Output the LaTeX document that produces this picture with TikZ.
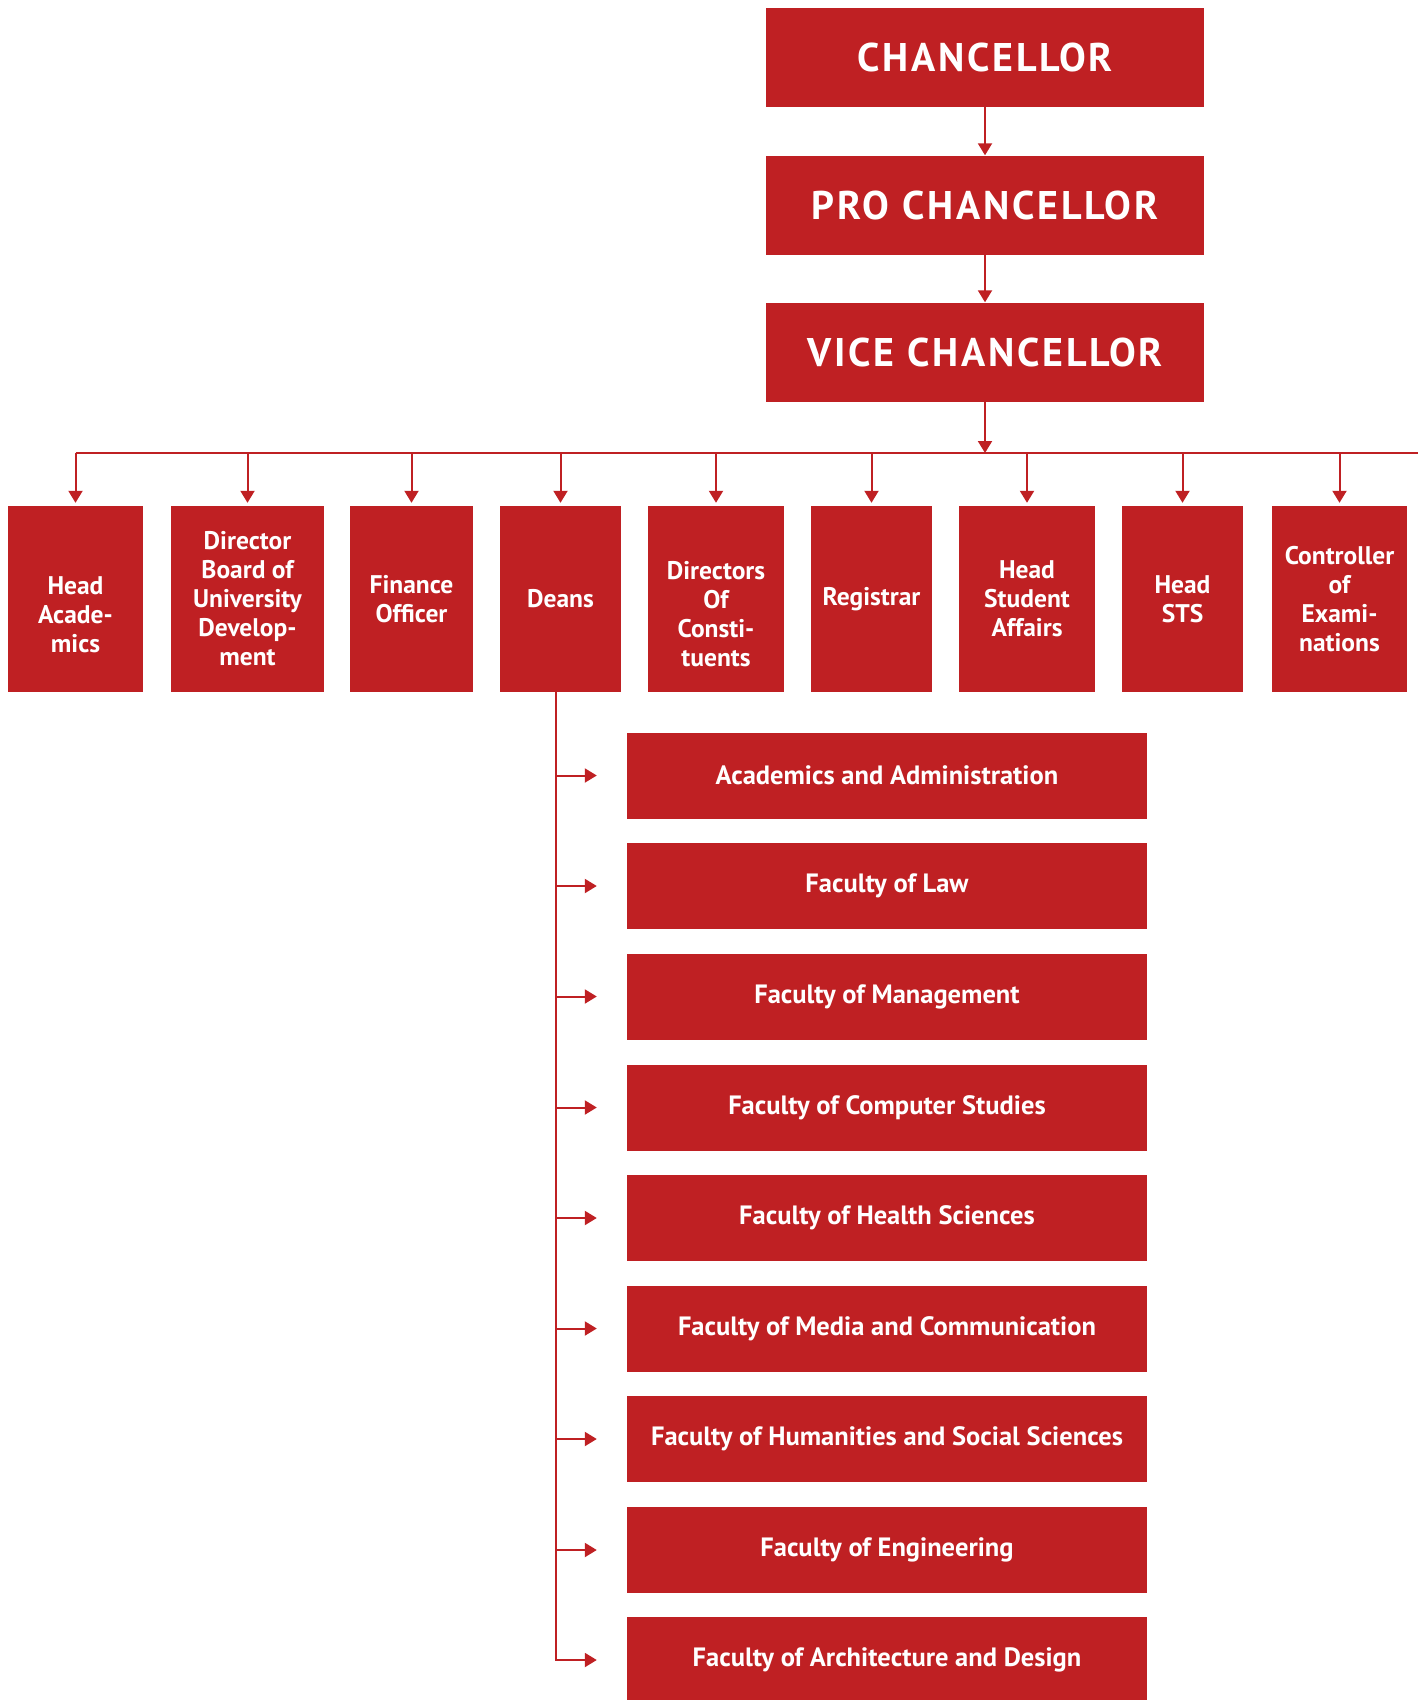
\documentclass[tikz,border=0pt]{standalone}
\usepackage{fontspec}
\setmainfont{PT Sans}
\usetikzlibrary{arrows.meta}
\definecolor{uni}{RGB}{191,32,35}
\begin{document}
\begin{tikzpicture}[x=1pt,y=-1pt,
  box/.style={fill=uni,text=white,inner sep=0pt,align=center,font=\bfseries},
  topbox/.style={box,minimum width=438pt,minimum height=99pt,font=\bfseries\fontsize{40}{46}\selectfont\addfontfeatures{LetterSpace=7}},
  midbox/.style={box,minimum height=186pt,font=\bfseries\fontsize{25.5}{29}\selectfont},
  facbox/.style={box,minimum width=520pt,minimum height=86pt,font=\bfseries\fontsize{26.5}{30}\selectfont},
  arr/.style={draw=uni,line width=2pt,-{Triangle[length=12pt,width=14pt]}},
  ln/.style={draw=uni,line width=2pt}]
\useasboundingbox (0,0) rectangle (1418,1700);
% top chain
\node[topbox] (ch) at (985,57.5) {CHANCELLOR};
\node[topbox] (pro) at (985,205) {PRO CHANCELLOR};
\node[topbox] (vc) at (985,352) {VICE CHANCELLOR};
\draw[arr] (ch.south) -- (pro.north);
\draw[arr] (pro.south) -- (vc.north);
% second row
\node[midbox,minimum width=135pt] (m1) at (75.5,599) {\strut\\Head\\Acade-\\mics};
\node[midbox,minimum width=153pt] (m2) at (247.5,599) {Director\\Board of\\University\\Develop-\\ment};
\node[midbox,minimum width=123pt] (m3) at (411.5,599) {Finance\\Officer};
\node[midbox,minimum width=121pt] (m4) at (560.5,599) {Deans};
\node[midbox,minimum width=136pt] (m5) at (716,599) {\strut\\Directors\\Of\\Consti-\\tuents};
\node[midbox,minimum width=121pt] (m6) at (871.5,599) {Registrar};
\node[midbox,minimum width=136pt] (m7) at (1027,599) {Head\\Student\\Affairs};
\node[midbox,minimum width=121pt] (m8) at (1182.5,599) {Head\\STS};
\node[midbox,minimum width=135pt] (m9) at (1339.5,599) {Controller\\of\\Exami-\\nations};
\coordinate (busL) at (75.5,453);
\coordinate (busR) at (1418,453);
\coordinate (busV) at (985,453);
\draw[ln] (busL) -- (busR);
\draw[arr] (vc.south) -- (busV);
\foreach \m in {m1,m2,m3,m4,m5,m6,m7,m8,m9}{
  \draw[arr,shorten >=3pt] (\m.north |- busL) -- (\m.north);
}
% faculties
\node[facbox] (f1) at (887,775.5) {Academics and Administration};
\node[facbox] (f2) at (887,886) {Faculty of Law};
\node[facbox] (f3) at (887,996.5) {Faculty of Management};
\node[facbox] (f4) at (887,1107.5) {Faculty of Computer Studies};
\node[facbox] (f5) at (887,1218) {Faculty of Health Sciences};
\node[facbox] (f6) at (887,1328.5) {Faculty of Media and Communication};
\node[facbox] (f7) at (887,1439) {Faculty of Humanities and Social Sciences};
\node[facbox] (f8) at (887,1550) {Faculty of Engineering};
\node[facbox] (f9) at (887,1660) {Faculty of Architecture and Design};
\foreach \f in {f1,f2,f3,f4,f5,f6,f7,f8,f9}{
  \draw[arr,shorten >=30pt] ([xshift=-5pt]m4.south) |- (\f.west);
}
\end{tikzpicture}
\end{document}
